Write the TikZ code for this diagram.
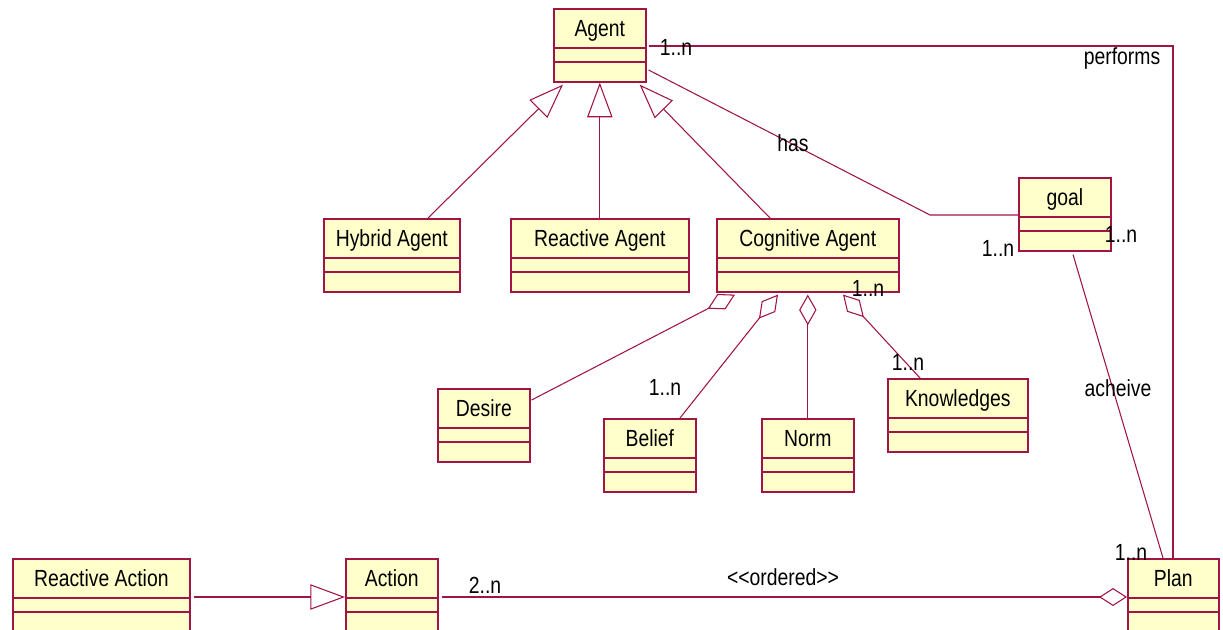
\documentclass[tikz,border=0pt]{standalone}
\usepackage{fontspec}
\setmainfont{Liberation Sans}[FakeStretch=0.83]
\usetikzlibrary{arrows.meta,calc}
\definecolor{umlline}{RGB}{160,20,70}
\definecolor{umlfill}{RGB}{255,255,204}
\tikzset{
  umlclass/.style={draw=umlline, fill=umlfill, line width=1.2pt, rectangle, inner sep=0pt, minimum height=54.75pt, anchor=north west},
  comp/.style={draw=umlline, line width=0.9pt},
  conn/.style={draw=umlline, line width=0.8pt},
  lbl/.style={font=\fontsize{17.5}{20}\selectfont, inner sep=0pt, text=black},
  gen/.style={conn, -{Triangle[open, length=26pt, width=19pt]}},
  agg/.style={conn, {Diamond[open, length=23pt, width=13pt]}-},
  aggend/.style={conn, -{Diamond[open, length=21pt, width=13.5pt]}},
}
\newcommand\umlcls[5]{%
  \node[umlclass, minimum width=#4*0.75pt] (#1) at (#2,#3) {};
  \draw[comp] ($(#1.north west)+(0,40)$) -- ($(#1.north east)+(0,40)$);
  \draw[comp] ($(#1.north west)+(0,54)$) -- ($(#1.north east)+(0,54)$);
  \node[lbl, anchor=base] (#1-t) at ($(#1.north)+(0,28.5)$) {#5};
}
\begin{document}
\begin{tikzpicture}[x=0.75pt, y=-0.75pt]
\useasboundingbox (0,0) rectangle (1223,629);
\clip (0,0) rectangle (1223,629);
\fill[white] (0,0) rectangle (1223,629);

\umlcls{agent}{553}{8}{92}{Agent}
\umlcls{hybrid}{323}{218}{136}{Hybrid Agent}
\umlcls{reactive}{510}{218}{178}{Reactive Agent}
\umlcls{cog}{716}{218}{182}{Cognitive Agent}
\umlcls{goal}{1018}{177}{92}{goal}
\umlcls{desire}{437}{388}{92}{Desire}
\umlcls{belief}{603}{418}{92}{Belief}
\umlcls{norm}{761}{418}{92}{Norm}
\umlcls{know}{887}{378}{140}{Knowledges}
\umlcls{ract}{12}{558}{177}{Reactive Action}
\umlcls{action}{345}{558}{92}{Action}
\umlcls{plan}{1127}{558}{91}{Plan}

% generalizations to Agent
\draw[gen] ($(hybrid.north west)+(105,0)$) -- ($(agent.south west)+(10,2)$);
\draw[gen] (reactive.north) -- (reactive.north |- agent.south);
\draw[gen] ($(cog.north west)+(54,0)$) -- ($(agent.south east)+(-7,2)$);

% has
\coordinate (hasbend) at (930,215);
\draw[conn] ($(agent.north east)+(2,62)$) -- (hasbend) -- ($(goal.north west)+(0,38)$);
\node[lbl] (has) at (793,143) {has};

% performs
\draw[conn] ($(agent.north east)+(2,38)$) -| ($(plan.north west)+(46,0)$);
\node[lbl] (perf) at (1122,58) {performs};
\node[lbl] (m1) at (676,47) {1..n};

% acheive
\draw[conn] ($(goal.south west)+(55,3)$) -- ($(plan.north west)+(36,0)$);
\node[lbl] (ach) at (1118,388) {acheive};
\node[lbl] (m2) at (998,248) {1..n};
\node[lbl] (m3) at (1121,234) {1..n};
\node[lbl] (m4) at (1131,552) {1..n};

% aggregations from Cognitive Agent
\draw[agg] ($(cog.south west)+(19,2)$) -- ($(desire.north east)+(1,12)$);
\draw[agg] ($(cog.south west)+(62,2)$) -- ($(belief.north west)+(77,0)$);
\draw[agg] ($(cog.south)+(0,2)$) -- (norm.north);
\draw[agg] ($(cog.south west)+(127,2)$) -- ($(know.north west)+(33,0)$);
\node[lbl] (m5) at (868,288) {1..n};
\node[lbl] (m6) at (665,387) {1..n};
\node[lbl] (m7) at (908,362) {1..n};

% bottom row
\draw[gen] ($(ract.north east)+(3,39)$) -- ($(action.north west)+(0,39)$);
\draw[aggend] ($(action.north east)+(3,39)$) -- ($(plan.north west)+(0,39)$);
\node[lbl] (m8) at (485,585) {2..n};
\node[lbl] (ord) at (783,577) {<\kern0pt<ordered>\kern0pt>};
\end{tikzpicture}
\end{document}
